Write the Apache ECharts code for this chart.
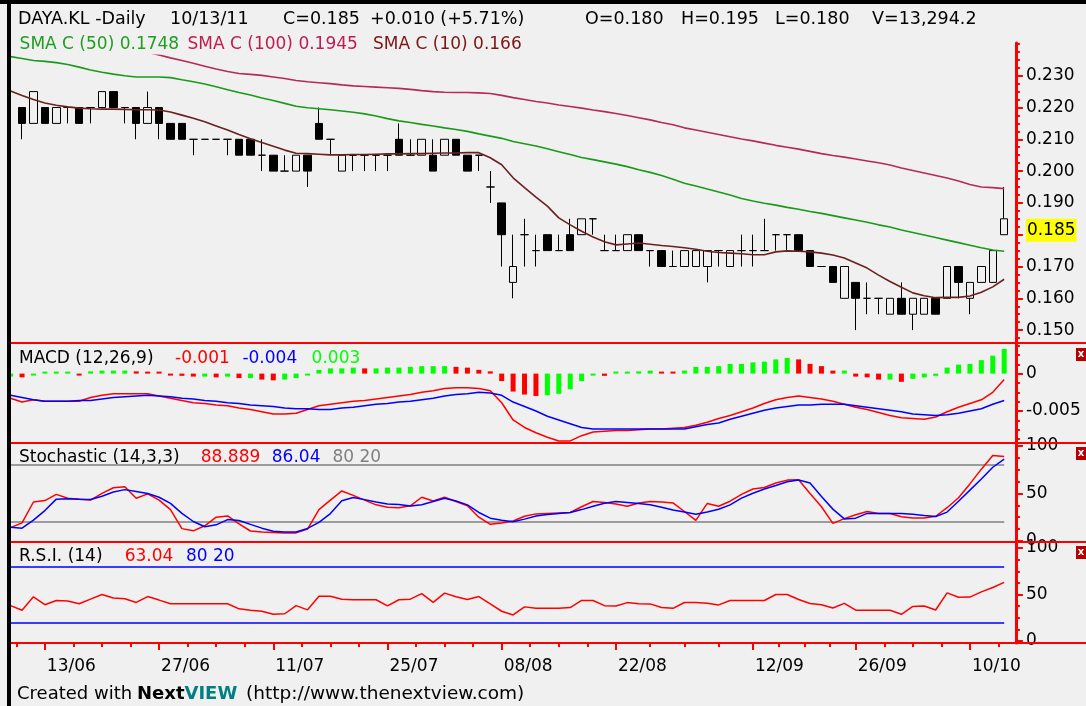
<!DOCTYPE html>
<html>
<head>
<meta charset="utf-8">
<title>DAYA.KL Daily</title>
<script src="https://cdn.jsdelivr.net/npm/echarts@6/dist/echarts.min.js"></script>
<style>
  html, body { margin: 0; padding: 0; background: #f0f0f0; }
  #chart { width: 1086px; height: 706px; }
</style>
</head>
<body>
<div id="chart"></div>
<script>
// index 0 is the session hidden behind the left border (only the lines show there)
const days = Array.from({ length: 88 }, (_, i) => String(i));
const tickIdx = [3, 13, 23, 33, 43, 53, 65, 74, 84];
const tickLabels = ['13/06', '27/06', '11/07', '25/07', '08/08', '22/08', '12/09', '26/09', '10/10'];

// [open, close, low, high]
const ohlc = [
  ['-', '-', '-', '-'],
  [0.220, 0.215, 0.210, 0.220], [0.215, 0.225, 0.215, 0.225], [0.220, 0.215, 0.215, 0.220], [0.215, 0.220, 0.215, 0.220],
  [0.220, 0.220, 0.215, 0.220], [0.220, 0.215, 0.215, 0.220], [0.220, 0.220, 0.215, 0.220], [0.220, 0.225, 0.220, 0.225],
  [0.225, 0.220, 0.220, 0.225], [0.220, 0.220, 0.215, 0.220], [0.220, 0.215, 0.210, 0.220], [0.215, 0.220, 0.215, 0.225],
  [0.220, 0.215, 0.210, 0.220], [0.215, 0.210, 0.210, 0.215], [0.215, 0.210, 0.210, 0.215], [0.210, 0.210, 0.205, 0.210],
  [0.210, 0.210, 0.210, 0.210], [0.210, 0.210, 0.210, 0.210], [0.210, 0.210, 0.205, 0.210], [0.210, 0.205, 0.205, 0.210],
  [0.210, 0.205, 0.205, 0.210], [0.205, 0.205, 0.200, 0.210], [0.205, 0.200, 0.200, 0.205], [0.200, 0.200, 0.200, 0.205],
  [0.200, 0.205, 0.200, 0.205], [0.205, 0.200, 0.195, 0.205], [0.215, 0.210, 0.210, 0.220], [0.210, 0.210, 0.205, 0.210],
  [0.200, 0.205, 0.200, 0.205], [0.205, 0.205, 0.200, 0.205], [0.205, 0.205, 0.200, 0.205], [0.205, 0.205, 0.200, 0.205],
  [0.205, 0.205, 0.200, 0.205], [0.210, 0.205, 0.205, 0.215], [0.205, 0.205, 0.205, 0.210], [0.205, 0.210, 0.205, 0.210],
  [0.205, 0.200, 0.200, 0.210], [0.205, 0.210, 0.205, 0.210], [0.210, 0.205, 0.205, 0.210], [0.205, 0.200, 0.200, 0.205],
  [0.205, 0.205, 0.200, 0.205], [0.195, 0.195, 0.190, 0.200], [0.190, 0.180, 0.170, 0.190], [0.165, 0.170, 0.160, 0.180],
  [0.180, 0.180, 0.170, 0.185], [0.175, 0.175, 0.170, 0.180], [0.180, 0.175, 0.175, 0.180], [0.175, 0.175, 0.175, 0.180],
  [0.180, 0.175, 0.175, 0.185], [0.180, 0.185, 0.180, 0.185], [0.185, 0.185, 0.180, 0.185], [0.175, 0.175, 0.175, 0.180],
  [0.175, 0.175, 0.175, 0.180], [0.175, 0.180, 0.175, 0.180], [0.180, 0.175, 0.175, 0.180], [0.175, 0.175, 0.170, 0.175],
  [0.175, 0.170, 0.170, 0.175], [0.170, 0.170, 0.170, 0.175], [0.170, 0.175, 0.170, 0.175], [0.170, 0.175, 0.170, 0.175],
  [0.170, 0.175, 0.165, 0.175], [0.175, 0.175, 0.170, 0.175], [0.170, 0.175, 0.170, 0.175], [0.175, 0.175, 0.170, 0.180],
  [0.175, 0.175, 0.170, 0.180], [0.175, 0.175, 0.175, 0.185], [0.180, 0.180, 0.175, 0.180], [0.180, 0.180, 0.175, 0.180],
  [0.180, 0.175, 0.175, 0.180], [0.175, 0.170, 0.170, 0.175], [0.170, 0.170, 0.170, 0.170], [0.170, 0.165, 0.165, 0.170],
  [0.160, 0.170, 0.160, 0.170], [0.165, 0.160, 0.150, 0.165], [0.160, 0.160, 0.155, 0.165], [0.160, 0.160, 0.155, 0.160],
  [0.155, 0.160, 0.155, 0.160], [0.160, 0.155, 0.155, 0.165], [0.155, 0.160, 0.150, 0.160], [0.155, 0.160, 0.155, 0.160],
  [0.160, 0.155, 0.155, 0.160], [0.160, 0.170, 0.160, 0.170], [0.170, 0.165, 0.160, 0.170], [0.160, 0.165, 0.155, 0.165],
  [0.165, 0.170, 0.165, 0.170], [0.165, 0.175, 0.165, 0.175], [0.180, 0.185, 0.180, 0.195]
];

const sma10 = [0.2252,
  0.2238, 0.2225, 0.2214, 0.2207, 0.2202, 0.2198, 0.2196, 0.2195, 0.2195, 0.2194,
  0.2193, 0.2193, 0.2192, 0.2186, 0.2176, 0.2166, 0.2155, 0.2142, 0.2129, 0.2115,
  0.2102, 0.2090, 0.2078, 0.2066, 0.2056, 0.2055, 0.2053, 0.2051, 0.2051, 0.2052,
  0.2052, 0.2053, 0.2054, 0.2054, 0.2055, 0.2055, 0.2056, 0.2057, 0.2057, 0.2058,
  0.2058, 0.2042, 0.2020, 0.1979, 0.1948, 0.1918, 0.1890, 0.1853, 0.1831, 0.1811,
  0.1793, 0.1778, 0.1768, 0.1771, 0.1774, 0.1770, 0.1766, 0.1763, 0.1759, 0.1754,
  0.1748, 0.1744, 0.1742, 0.1740, 0.1737, 0.1737, 0.1746, 0.1749, 0.1748, 0.1746,
  0.1742, 0.1736, 0.1727, 0.1711, 0.1695, 0.1673, 0.1653, 0.1635, 0.1617, 0.1608,
  0.1602, 0.1603, 0.1603, 0.1607, 0.1619, 0.1636, 0.1660];
const sma50 = [0.2360,
  0.2354, 0.2348, 0.2345, 0.2341, 0.2335, 0.2327, 0.2318, 0.2311, 0.2305, 0.2300,
  0.2296, 0.2296, 0.2296, 0.2294, 0.2287, 0.2281, 0.2274, 0.2265, 0.2256, 0.2247,
  0.2239, 0.2230, 0.2222, 0.2213, 0.2204, 0.2199, 0.2196, 0.2193, 0.2189, 0.2185,
  0.2180, 0.2173, 0.2165, 0.2158, 0.2153, 0.2147, 0.2142, 0.2136, 0.2131, 0.2125,
  0.2117, 0.2110, 0.2103, 0.2093, 0.2086, 0.2079, 0.2070, 0.2061, 0.2052, 0.2043,
  0.2036, 0.2029, 0.2022, 0.2014, 0.2004, 0.1996, 0.1986, 0.1974, 0.1962, 0.1953,
  0.1944, 0.1934, 0.1925, 0.1914, 0.1906, 0.1899, 0.1893, 0.1886, 0.1880, 0.1873,
  0.1867, 0.1860, 0.1853, 0.1846, 0.1839, 0.1831, 0.1824, 0.1815, 0.1807, 0.1799,
  0.1791, 0.1783, 0.1775, 0.1767, 0.1759, 0.1752, 0.1748];
const sma100 = [0.2485,
  0.2475, 0.2466, 0.2456, 0.2447, 0.2437, 0.2428, 0.2419, 0.2409, 0.2400, 0.2390,
  0.2381, 0.2373, 0.2365, 0.2356, 0.2348, 0.2339, 0.2330, 0.2321, 0.2313, 0.2307,
  0.2304, 0.2301, 0.2296, 0.2291, 0.2285, 0.2281, 0.2278, 0.2275, 0.2271, 0.2268,
  0.2266, 0.2264, 0.2262, 0.2260, 0.2257, 0.2253, 0.2250, 0.2248, 0.2247, 0.2247,
  0.2246, 0.2244, 0.2238, 0.2231, 0.2225, 0.2219, 0.2214, 0.2208, 0.2203, 0.2198,
  0.2192, 0.2187, 0.2181, 0.2175, 0.2168, 0.2161, 0.2153, 0.2146, 0.2136, 0.2129,
  0.2122, 0.2115, 0.2108, 0.2101, 0.2095, 0.2088, 0.2081, 0.2075, 0.2069, 0.2062,
  0.2055, 0.2049, 0.2044, 0.2038, 0.2032, 0.2026, 0.2019, 0.2010, 0.2002, 0.1994,
  0.1986, 0.1978, 0.1969, 0.1958, 0.1950, 0.1948, 0.1945];

const macdLine = [
  -0.0033, -0.0038, -0.0035, -0.0037, -0.0037, -0.0037, -0.0037, -0.0032, -0.0029, -0.0027,
  -0.0027, -0.0027, -0.0027, -0.0030, -0.0033, -0.0036, -0.0039, -0.0040, -0.0042, -0.0043,
  -0.0046, -0.0048, -0.0051, -0.0054, -0.0054, -0.0053, -0.0048, -0.0043, -0.0041, -0.0039,
  -0.0037, -0.0036, -0.0034, -0.0032, -0.0030, -0.0028, -0.0025, -0.0023, -0.0020, -0.0019,
  -0.0019, -0.0020, -0.0023, -0.0039, -0.0062, -0.0072, -0.0079, -0.0085, -0.0090, -0.0090,
  -0.0083, -0.0078, -0.0077, -0.0076, -0.0076, -0.0075, -0.0074, -0.0074, -0.0073, -0.0072,
  -0.0069, -0.0065, -0.0060, -0.0056, -0.0051, -0.0046, -0.0040, -0.0035, -0.0032, -0.0030,
  -0.0032, -0.0034, -0.0037, -0.0041, -0.0045, -0.0048, -0.0052, -0.0056, -0.0059, -0.0060,
  -0.0061, -0.0058, -0.0051, -0.0045, -0.0040, -0.0035, -0.0025, -0.0008];
const signalLine = [
  -0.0029, -0.0032, -0.0035, -0.0037, -0.0037, -0.0037, -0.0036, -0.0036, -0.0034, -0.0032,
  -0.0031, -0.0030, -0.0029, -0.0030, -0.0031, -0.0033, -0.0034, -0.0036, -0.0037, -0.0039,
  -0.0040, -0.0042, -0.0043, -0.0044, -0.0046, -0.0047, -0.0047, -0.0048, -0.0048, -0.0046,
  -0.0045, -0.0043, -0.0041, -0.0040, -0.0038, -0.0037, -0.0035, -0.0033, -0.0030, -0.0028,
  -0.0027, -0.0025, -0.0026, -0.0029, -0.0038, -0.0044, -0.0050, -0.0057, -0.0062, -0.0067,
  -0.0072, -0.0074, -0.0074, -0.0074, -0.0074, -0.0074, -0.0074, -0.0074, -0.0074, -0.0074,
  -0.0071, -0.0068, -0.0066, -0.0061, -0.0057, -0.0053, -0.0049, -0.0046, -0.0044, -0.0042,
  -0.0042, -0.0041, -0.0041, -0.0041, -0.0043, -0.0045, -0.0047, -0.0049, -0.0051, -0.0054,
  -0.0055, -0.0056, -0.0055, -0.0053, -0.0050, -0.0047, -0.0041, -0.0036];
const macdHist = [
  -0.0004, -0.0005, -0.0001, 0.0000, 0.0000, 0.0000, -0.0001, 0.0003, 0.0004, 0.0004,
  0.0004, 0.0003, 0.0002, 0.0000, -0.0002, -0.0003, -0.0004, -0.0004, -0.0005, -0.0004,
  -0.0006, -0.0006, -0.0008, -0.0009, -0.0008, -0.0006, -0.0001, 0.0005, 0.0007, 0.0007,
  0.0008, 0.0007, 0.0007, 0.0008, 0.0008, 0.0009, 0.0010, 0.0010, 0.0010, 0.0009,
  0.0008, 0.0005, 0.0003, -0.0010, -0.0024, -0.0028, -0.0030, -0.0029, -0.0027, -0.0021,
  -0.0010, -0.0002, -0.0003, 0.0001, 0.0002, 0.0003, 0.0004, 0.0002, 0.0001, 0.0004,
  0.0009, 0.0009, 0.0010, 0.0013, 0.0013, 0.0015, 0.0016, 0.0019, 0.0021, 0.0019,
  0.0013, 0.0010, 0.0004, 0.0004, -0.0004, -0.0005, -0.0008, -0.0008, -0.0011, -0.0007,
  -0.0005, -0.0003, 0.0008, 0.0012, 0.0013, 0.0018, 0.0024, 0.0033];

const stochK = [
  14, 19, 41, 42.5, 49, 45, 44, 43, 50, 56,
  57, 45, 49.5, 43, 33, 13, 10.7, 16, 25, 26.4,
  18, 10.5, 9.5, 9, 8.5, 8.5, 12.5, 33, 43, 52.6,
  48, 43, 38, 35.5, 35, 37, 46, 42, 46, 41.5,
  37, 25, 17.5, 19, 21, 26, 28.5, 29, 29.5, 30,
  36, 41.5, 40.5, 39, 36.5, 40, 41.5, 41, 40, 31,
  21.7, 39.5, 36.5, 41.8, 49, 54.7, 56.3, 61, 64, 64.3,
  50, 36, 18.5, 23.5, 27.5, 31, 29, 29, 25.5, 24.2,
  24.2, 26, 35, 45.4, 60, 75.5, 89.9, 88.889];
const stochD = [
  14.4, 13.5, 22, 32, 44, 44.4, 44, 43.7, 47, 51.5,
  54, 52, 50, 46, 39.5, 29, 20.5, 15, 17, 22.5,
  21.5, 17.5, 13.5, 10.3, 9.4, 9.5, 13.2, 19.6, 28.8, 42.3,
  45.8, 43.5, 41, 39, 38.3, 36.9, 38.2, 41.6, 45, 42,
  38, 30, 24, 21.7, 20.2, 23, 26.2, 27.9, 29, 30,
  33, 36.5, 39.6, 41.5, 40.5, 39.5, 38, 35.5, 32.6, 30.5,
  28.1, 30.5, 33.4, 38, 45, 50.2, 54.6, 58.3, 62.2, 64.2,
  61, 46.8, 33.5, 23.2, 24, 29, 29, 29, 29, 28,
  26.7, 25.8, 30.4, 41.7, 53.5, 65.2, 77.5, 86.04];
const rsi = [
  38, 33.1, 47.5, 39, 43.6, 43, 40, 45, 50, 46.3,
  45.4, 41.5, 47.8, 44, 40, 40, 40, 40, 40, 40,
  34.6, 33.1, 32, 28.7, 29.3, 38, 33.5, 48.2, 48.2, 44.8,
  44.4, 44.4, 44.4, 37.8, 44.4, 45, 51, 41.5, 51.5, 47.5,
  44.6, 47.8, 40, 32, 28, 36.7, 35.1, 35.1, 35.1, 36,
  43.6, 43.6, 38, 37.7, 41.3, 40, 39.9, 36, 35.1, 41.4,
  41.4, 40.5, 38.8, 43.6, 43.6, 43.6, 43.6, 50, 50, 44.7,
  40.3, 39, 35.5, 40.5, 33.1, 33.1, 33.1, 33.1, 28.7, 37.2,
  37.6, 33.3, 51.8, 47, 47.2, 52.8, 57.5, 63.04];

const priceTicks = [0.15, 0.16, 0.17, 0.18, 0.19, 0.20, 0.21, 0.22, 0.23];
const macdTicks = [0, -0.005];
const oscTicks = [0, 50, 100];
const stochLevels = [80, 20];
const rsiLevels = [80, 20];

const FONT = '"DejaVu Sans", Verdana, sans-serif';
const RED = '#ff0000';
const BG = '#f0f0f0';
const last = days.length - 1;

// small ticks between the labelled ones
const priceMinor = [];
for (let k = 0; k <= 37; k++) {
  const v = +(0.1475 + k * 0.0025).toFixed(4);
  if (!priceTicks.some(t => Math.abs(t - v) < 1e-6)) priceMinor.push(v);
}
const macdMinor = [0.00375, 0.0025, 0.00125, -0.00125, -0.0025, -0.00375, -0.00625, -0.0075, -0.00875];
const oscMinor = [12.5, 25, 37.5, 62.5, 75, 87.5];
const xMinor = [tickIdx[0] - 2.5];
for (let k = 0; k < tickIdx.length - 1; k++) {
  const a = tickIdx[k], b = tickIdx[k + 1];
  for (let q = 1; q <= 3; q++) xMinor.push(a + (b - a) * q / 4);
}
xMinor.push(tickIdx[tickIdx.length - 1] + 2.5);

const L = 4.9, W = 1005;
const grids = [
  { left: L, width: W, top: 43, height: 299 },
  { left: L, width: W, top: 343, height: 99 },
  { left: L, width: W, top: 443, height: 98 },
  { left: L, width: W, top: 543, height: 100 }
];

function hiddenX(g) {
  return { type: 'category', gridIndex: g, data: days, boundaryGap: true, show: false };
}

function mainY(g, min, max, ticks, fmt) {
  return {
    type: 'value', gridIndex: g, position: 'right', offset: 6, min: min, max: max,
    splitLine: { show: false },
    axisLine: { show: true, onZero: false, lineStyle: { color: RED, width: 3 } },
    axisTick: { show: true, customValues: ticks, length: 7, lineStyle: { color: RED, width: 2 } },
    axisLabel: { customValues: ticks, formatter: fmt, color: '#000', fontSize: 17, fontFamily: FONT, margin: 10 }
  };
}
function minorY(g, min, max, ticks) {
  return {
    type: 'value', gridIndex: g, position: 'right', offset: 6, min: min, max: max,
    splitLine: { show: false }, axisLine: { show: false, onZero: false }, axisLabel: { show: false },
    axisTick: { show: true, customValues: ticks, length: 4, lineStyle: { color: RED, width: 2 } }
  };
}

const yAxis = [
  mainY(0, 0.14626, 0.24028, priceTicks, v => v.toFixed(3)),
  minorY(0, 0.14626, 0.24028, priceMinor),
  {
    type: 'value', gridIndex: 0, position: 'right', offset: 6, min: 0.14626, max: 0.24028,
    splitLine: { show: false }, axisLine: { show: false, onZero: false }, axisTick: { show: false },
    axisLabel: {
      customValues: [ohlc[last][1]], formatter: v => v.toFixed(3), color: '#000',
      fontSize: 17, fontFamily: FONT, margin: 10, verticalAlign: 'top',
      backgroundColor: '#ffff00', padding: [3, 1, 3, 1]
    }
  },
  mainY(1, -0.009144, 0.004091, macdTicks, v => (v === 0 ? '0' : v.toFixed(3))),
  minorY(1, -0.009144, 0.004091, macdMinor),
  mainY(2, 0, 103, oscTicks, v => String(v)),
  minorY(2, 0, 103, oscMinor),
  mainY(3, -2.15, 105.4, oscTicks, v => String(v)),
  minorY(3, -2.15, 105.4, oscMinor)
];

const xAxis = [
  hiddenX(0), hiddenX(1), hiddenX(2),
  {
    type: 'category', gridIndex: 3, data: days, boundaryGap: true, position: 'bottom',
    axisLine: { show: false, onZero: false },
    axisTick: { show: true, alignWithLabel: true, interval: i => tickIdx.includes(i), length: 7, lineStyle: { color: RED, width: 2 } },
    axisLabel: {
      interval: i => tickIdx.includes(i),
      formatter: (v, i) => tickLabels[tickIdx.indexOf(i)] || '',
      align: 'left', padding: [0, 0, 0, 2], margin: 15,
      color: '#000', fontSize: 17, fontFamily: FONT
    }
  },
  {
    type: 'value', gridIndex: 3, position: 'bottom', min: -0.5, max: last + 0.5,
    splitLine: { show: false }, axisLine: { show: false, onZero: false }, axisLabel: { show: false },
    axisTick: { show: true, customValues: xMinor, length: 4, lineStyle: { color: RED, width: 2 } }
  }
];

function levelLines(levels, color) {
  return {
    symbol: 'none', silent: true, label: { show: false },
    lineStyle: { color: color, width: 1.5, type: 'solid' },
    data: levels.map(v => [{ coord: [0, v] }, { coord: [last, v] }])
  };
}
function line(x, y, data, color, width, extra) {
  return Object.assign({
    type: 'line', xAxisIndex: x, yAxisIndex: y, data: data, showSymbol: false,
    lineStyle: { color: color, width: width }, z: 5
  }, extra || {});
}

const series = [
  {
    type: 'candlestick', xAxisIndex: 0, yAxisIndex: 0, data: ohlc, barWidth: 8, z: 3,
    itemStyle: {
      color: BG, color0: '#000000', borderColor: '#000000', borderColor0: '#000000',
      borderColorDoji: '#000000', borderWidth: 1
    }
  },
  line(0, 0, sma100, '#b42a58', 1.6),
  line(0, 0, sma50, '#1a991a', 1.6),
  line(0, 0, sma10, '#6b2020', 1.6),
  {
    type: 'bar', xAxisIndex: 1, yAxisIndex: 3, data: macdHist, barWidth: 5, barMinHeight: 2,
    itemStyle: { color: p => (p.dataIndex > 0 && macdHist[p.dataIndex] < macdHist[p.dataIndex - 1] ? '#ff0000' : '#00ff00') }
  },
  line(1, 3, macdLine, '#ff0000', 1.5),
  line(1, 3, signalLine, '#0000ff', 1.5),
  line(2, 5, stochK, '#ff0000', 1.5, { markLine: levelLines(stochLevels, '#808080') }),
  line(2, 5, stochD, '#0000ff', 1.5),
  line(3, 7, rsi, '#ff0000', 1.5, { markLine: levelLines(rsiLevels, '#0000ff') })
];

function T(x, y, text, fill, size, align, bg) {
  const style = { text: text, fill: fill || '#000', font: (size || 17) + 'px ' + FONT, verticalAlign: 'middle', align: align || 'left' };
  if (bg) { style.backgroundColor = bg; style.padding = [1, 2, 1, 2]; }
  return { type: 'text', x: x, y: y, z: 100, style: style };
}
function hline(y, w) {
  return { type: 'rect', z: 90, shape: { x: 10, y: y, width: 1076, height: w }, style: { fill: RED } };
}
function closeBox(y) {
  return {
    type: 'group', z: 96, children: [
      { type: 'rect', shape: { x: 1076, y: y, width: 10, height: 13 }, style: { fill: '#b40000' } },
      { type: 'text', x: 1081, y: y + 6.5, style: { text: 'x', fill: '#fff', font: 'bold 10px ' + FONT, align: 'center', verticalAlign: 'middle' } }
    ]
  };
}

const graphic = [
  hline(342, 2), hline(442, 2), hline(541, 2), hline(642, 2),
  { type: 'rect', z: 95, shape: { x: 0, y: 0, width: 1086, height: 4 }, style: { fill: '#000' } },
  { type: 'rect', z: 95, shape: { x: 7, y: 0, width: 4, height: 706 }, style: { fill: '#000' } },
  closeBox(348), closeBox(447), closeBox(546),
  T(18, 19, 'DAYA.KL -Daily', '#000', 17.5), T(170, 19, '10/13/11', '#000', 17.5),
  T(283, 19, 'C=0.185', '#000', 17.5), T(370, 19, '+0.010 (+5.71%)', '#000', 17.5),
  T(585, 19, 'O=0.180', '#000', 17.5), T(681, 19, 'H=0.195', '#000', 17.5),
  T(775, 19, 'L=0.180', '#000', 17.5), T(872, 19, 'V=13,294.2', '#000', 17.5),
  T(17.6, 45, 'SMA C (50) 0.1748', '#1f9e1f', 17, 'left', BG),
  T(185.5, 45, 'SMA C (100) 0.1945', '#c01c50', 17, 'left', BG),
  T(371, 45, 'SMA C (10) 0.166', '#7d1414', 17, 'left', BG),
  T(19, 359, 'MACD (12,26,9)'), T(175, 359, '-0.001', '#ff0000'),
  T(242.4, 359, '-0.004', '#0000ff'), T(311.6, 359, '0.003', '#00ff00'),
  T(19, 458, 'Stochastic (14,3,3)'), T(200.8, 458, '88.889', '#ff0000'),
  T(271.8, 458, '86.04', '#0000ff'), T(332.4, 458, '80 20', '#808080'),
  T(19, 557, 'R.S.I. (14)'), T(124.7, 557, '63.04', '#ff0000'), T(186, 557, '80 20', '#0000ff'),
  T(17, 694.5, 'Created with', '#000', 18),
  {
    type: 'text', x: 137, y: 694.5, z: 100,
    style: {
      text: '{a|Next}{b|VIEW}', verticalAlign: 'middle',
      rich: {
        a: { fill: '#000', font: 'bold 18px ' + FONT },
        b: { fill: '#008080', font: 'bold 18px ' + FONT }
      }
    }
  },
  T(246, 694.5, '(http://www.thenextview.com)', '#000', 18.5)
];

const chart = echarts.init(document.getElementById('chart'));
chart.setOption({
  backgroundColor: BG,
  animation: false,
  grid: grids,
  xAxis: xAxis,
  yAxis: yAxis,
  series: series,
  graphic: graphic
});
</script>
</body>
</html>
